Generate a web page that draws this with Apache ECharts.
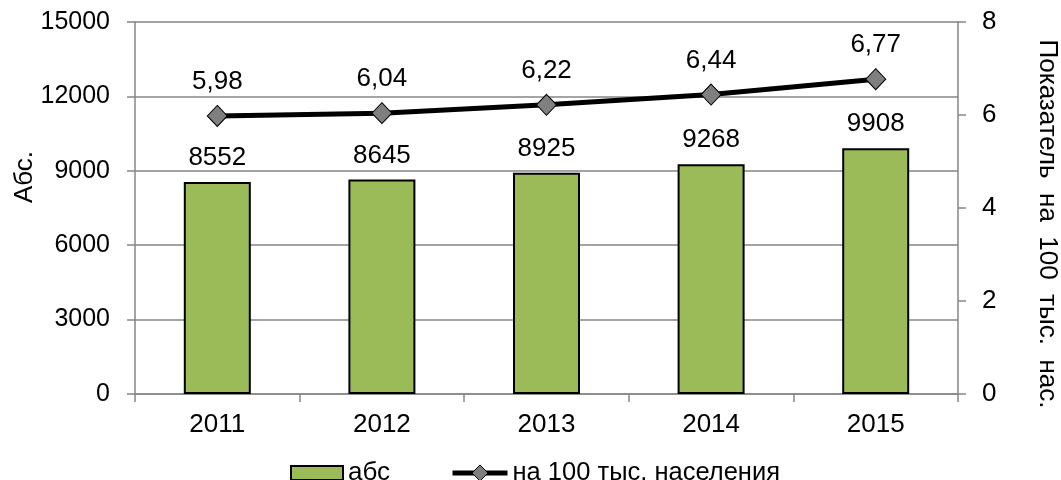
<!DOCTYPE html>
<html>
<head>
<meta charset="utf-8">
<script src="https://cdn.jsdelivr.net/npm/echarts@6/dist/echarts.min.js"></script>
<style>html,body{margin:0;padding:0;background:#fff}#c{width:1061px;height:480px}</style>
</head>
<body>
<div id="c"></div>
<script>
var categories = ['2011', '2012', '2013', '2014', '2015'];
var absValues = [8552, 8645, 8925, 9268, 9908];
var rateValues = [5.98, 6.04, 6.22, 6.44, 6.77];
var barName = 'абс';
var lineName = 'на 100 тыс. населения';
var leftAxisName = 'Абс.';
var rightAxisName = 'Показатель  на  100  тыс.  нас.';

var FONT = 'Liberation Sans, Arial, sans-serif';
var FS = 26;
var gray = '#868686';
var chart = echarts.init(document.getElementById('c'), null, {renderer: 'canvas'});
chart.setOption({
  animation: false,
  textStyle: {fontFamily: FONT, color: '#000'},
  grid: {left: 135, right: 103, top: 22, bottom: 86, containLabel: false},
  legend: [
    {
      left: 285, top: 455,
      textStyle: {fontFamily: FONT, fontSize: FS, color: '#000'},
      data: [{name: barName, icon: 'rect', itemStyle: {color: '#9BBB59', borderColor: '#000', borderWidth: 2}}],
      itemWidth: 52, itemHeight: 14
    },
    {
      left: 445, top: 455,
      textStyle: {fontFamily: FONT, fontSize: 25.5, color: '#000'},
      data: [{name: lineName,
              itemStyle: {color: '#7F7F7F', borderColor: '#000', borderWidth: 1},
              lineStyle: {color: '#000', width: 5}}],
      itemWidth: 55, itemHeight: 20
    }
  ],
  xAxis: {
    type: 'category', data: categories,
    axisLine: {lineStyle: {color: gray, width: 1.5}},
    axisTick: {show: true, length: 8, lineStyle: {color: gray, width: 1.5}},
    axisLabel: {fontFamily: FONT, fontSize: FS, color: '#000', margin: 18}
  },
  yAxis: [
    {
      type: 'value', min: 0, max: 15000, interval: 3000,
      axisLine: {show: true, lineStyle: {color: gray, width: 1.5}},
      axisTick: {show: true, length: 8, lineStyle: {color: gray, width: 1.5}},
      axisLabel: {fontFamily: FONT, fontSize: 25, color: '#000', margin: 25,
        formatter: function (v) { return String(v); }},
      splitLine: {show: true, lineStyle: {color: gray, width: 1.5}}
    },
    {
      type: 'value', min: 0, max: 8, interval: 2, position: 'right',
      axisLine: {show: true, lineStyle: {color: gray, width: 1.5}},
      axisTick: {show: true, length: 8, lineStyle: {color: gray, width: 1.5}},
      axisLabel: {fontFamily: FONT, fontSize: FS, color: '#000', margin: 24},
      splitLine: {show: false}
    }
  ],
  graphic: [
    {type: 'text', x: 25, y: 177, rotation: Math.PI / 2,
     style: {text: leftAxisName, fontFamily: FONT, fontSize: FS, fill: '#000', align: 'center', verticalAlign: 'middle'}},
    {type: 'text', x: 1047, y: 224, rotation: -Math.PI / 2,
     style: {text: rightAxisName, fontFamily: FONT, fontSize: FS, fill: '#000', align: 'center', verticalAlign: 'middle'}}
  ],
  series: [
    {
      name: barName, type: 'bar', data: absValues, barWidth: 67, yAxisIndex: 0,
      itemStyle: {color: '#9BBB59', borderColor: '#000', borderWidth: 2},
      label: {show: true, position: 'top', distance: 11, fontFamily: FONT, fontSize: FS, color: '#000'}
    },
    {
      name: lineName, type: 'line', data: rateValues, yAxisIndex: 1,
      symbol: 'diamond', symbolSize: [20, 21],
      lineStyle: {color: '#000', width: 5},
      itemStyle: {color: '#7F7F7F', borderColor: '#000', borderWidth: 1},
      label: {show: true, position: 'top', distance: 10, fontFamily: FONT, fontSize: FS, color: '#000',
        formatter: function (p) { return p.value.toFixed(2).replace('.', ','); }}
    }
  ]
});
</script>
</body>
</html>
